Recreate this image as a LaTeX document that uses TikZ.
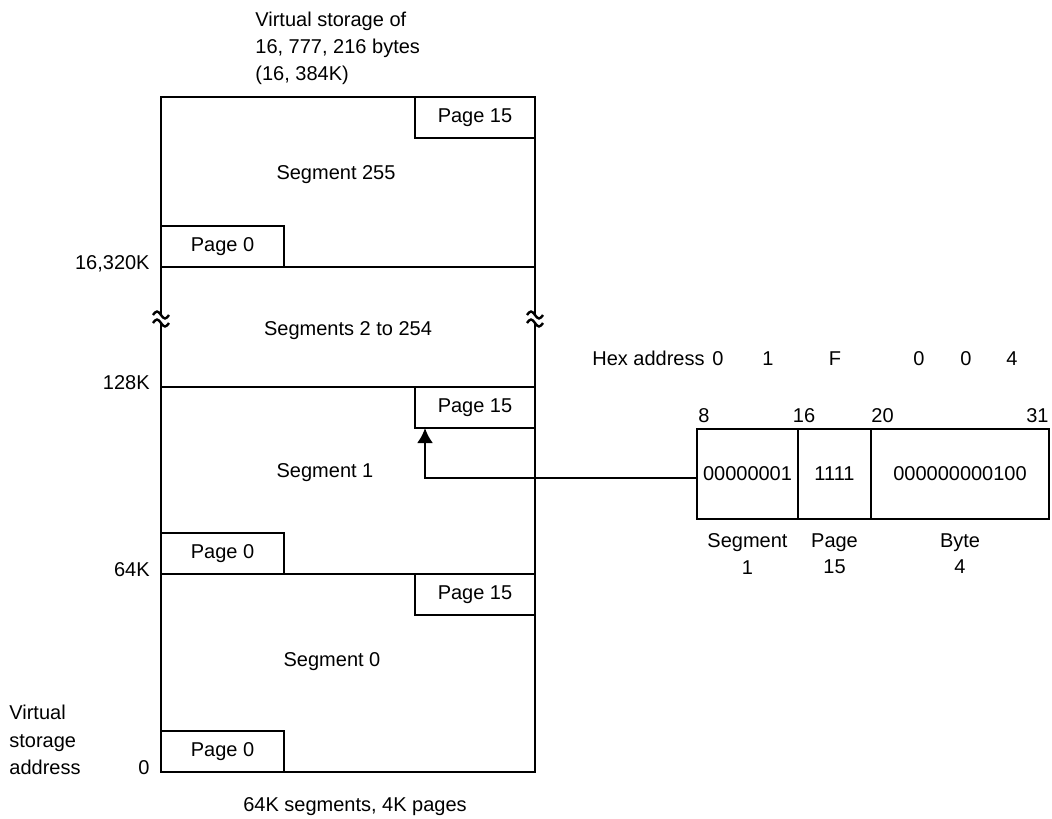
\documentclass[tikz,border=0pt]{standalone}
\usepackage{fontspec}
\setmainfont{Liberation Sans}
\usetikzlibrary{positioning,arrows.meta}
\tikzset{
  frame/.style = {line width = 1.2pt},
  lbl/.style = {font = \fontsize{10}{13.4}\selectfont, inner sep = 0pt},
  pagebox/.style = {draw, line width = 1.2pt, minimum width = 60pt, minimum height = 20.5pt, inner sep = 0pt, outer sep = 0pt},
  field/.style = {draw, line width = 1.2pt, minimum height = 45pt, inner sep = 0pt, outer sep = 0pt}
}
\begin{document}
\begin{tikzpicture}[x = 0.5pt, y = -0.5pt, every node/.style = {lbl}]
  \useasboundingbox (0, 0) rectangle (1052, 818);
  % the storage column, broken between segments 2 and 254
  \draw[frame] (161, 315) -- (161, 97) -- (535, 97) -- (535, 315);
  \draw[frame] (161, 323) -- (161, 772) -- (535, 772) -- (535, 323);
  \foreach \x in {161, 535}{
    \foreach \y in {315, 323}{
      \draw[frame] (\x - 8, \y) sin (\x - 4, \y - 3.5) cos (\x, \y) sin (\x + 4, \y + 3.5) cos (\x + 8, \y);
    }
  }
  \foreach \y/\lab in {267/{16,320K}, 387/128K, 574/64K, 772/0}{
    \draw[frame] (161, \y) -- (535, \y);
    \node[anchor = base east] (addr\y) at (150, \y + 2) {\lab};
  }
  \node (seg255) at (336, 175) {Segment 255};
  \node (segmid) at (348, 331) {Segments 2 to 254};
  \node (seg1) at (325, 473) {Segment 1};
  \node (seg0) at (332, 662) {Segment 0};
  % first and last page of each segment
  \foreach \y/\n in {97/a, 387/b, 574/c}{
    \node[pagebox, anchor = north east] (pgf\n) at (535, \y) {Page 15};
  }
  \foreach \y/\n in {267/a, 574/b, 772/c}{
    \node[pagebox, minimum width = 61.5pt, anchor = south west] (pgz\n) at (161, \y) {Page 0};
  }
  \node[anchor = north west, align = left] (title) at (255, 12) {Virtual storage of\\16, 777, 216 bytes\\(16, 384K)};
  \node[anchor = north west, align = left, font = \fontsize{10}{13.75}\selectfont] (vsa) at (9, 705) {Virtual\\storage\\address};
  \node (units) at (355, 807) {64K segments, 4K pages};
  % the address register
  \node[anchor = base east] (hex) at (705, 365) {Hex address};
  \foreach \x/\d [count = \i] in {718/0, 768/1, 835/F, 919/0, 966/0, 1012/4}{
    \node[anchor = base] (hex\i) at (\x, 365) {\d};
  }
  \node[field, minimum width = 50.5pt] (segf) at (747.5, 474) {00000001};
  \node[field, minimum width = 36.5pt, right = 0pt of segf] (pagef) {1111};
  \node[field, minimum width = 89pt, right = 0pt of pagef] (bytef) {000000000100};
  \node[anchor = base west, yshift = 3.5pt, xshift = 0.5pt] (bit8) at (segf.north west) {8};
  \node[anchor = base, yshift = 3.5pt, xshift = 3pt] (bit16) at (pagef.north west) {16};
  \node[anchor = base west, yshift = 3.5pt] (bit20) at (bytef.north west) {20};
  \node[anchor = base east, yshift = 3.5pt] (bit31) at (bytef.north east) {31};
  \node[below = 7pt of segf, align = center] (segl) {Segment\\1};
  \node[below = 7pt of pagef, align = center] (pagel) {Page\\15};
  \node[below = 7pt of bytef, align = center] (bytel) {Byte\\4};
  \draw[frame, -{Latex[length = 7.5pt, width = 8pt]}] ([yshift = -2pt]segf.west) -| ([xshift = 5pt]pgfb.south west);
\end{tikzpicture}
\end{document}
